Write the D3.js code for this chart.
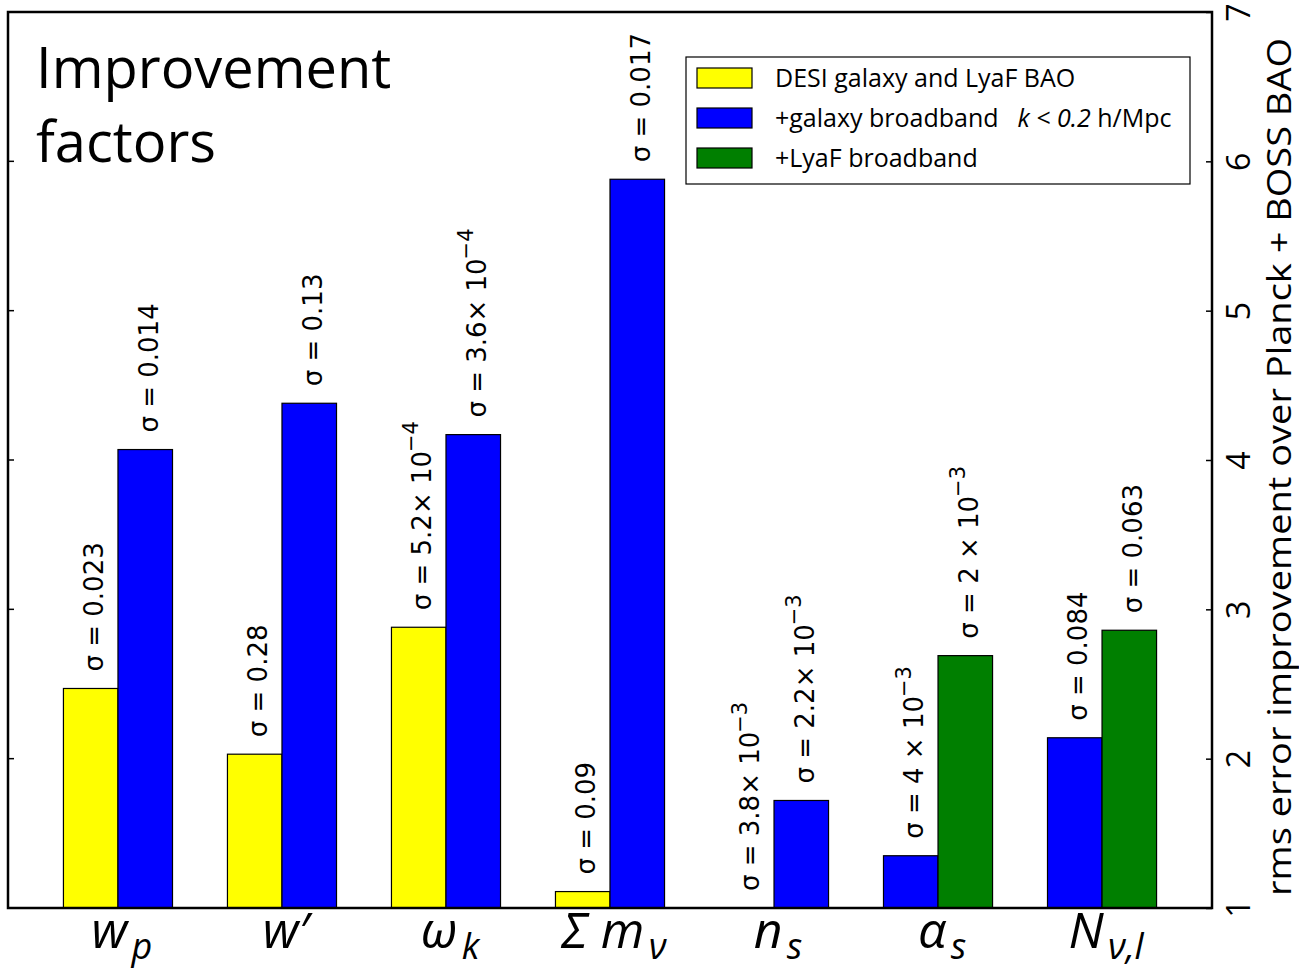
<!DOCTYPE html>
<html>
<head>
<meta charset="utf-8">
<script src="https://cdn.jsdelivr.net/npm/d3@7"></script>
<style>
  body { margin: 0; background: #fff; }
  svg { display: block; }
</style>
</head>
<body>
<div id="chart"></div>
<script>
// parameters on the x axis: main symbol and subscript
const categories = ["wp", "wprime", "omegak", "summnu", "ns", "alphas", "Nnu"];
const xMain = ["w", "w\u2032", "\u03c9", "\u03a3 m", "n", "\u03b1", "N"];
const xSub = ["p", "", "k", "\u03bd", "s", "s", "\u03bd,l"];

// improvement factors
const desiValues = [2.47, 2.03, 2.88, 1.11, null, null, null];
const galaxyValues = [4.07, 4.38, 4.17, 5.88, 1.72, 1.35, 2.14];
const lyafValues = [null, null, null, null, null, 2.69, 2.86];

// sigma annotations ("^" marks the exponent)
const desiLabels = ["0.023", "0.28", "5.2\u00d7 10^\u22124", "0.09", "3.8\u00d7 10^\u22123", null, null];
const galaxyLabels = ["0.014", "0.13", "3.6\u00d7 10^\u22124", "0.017", "2.2\u00d7 10^\u22123", "4 \u00d7 10^\u22123", "0.084"];
const lyafLabels = [null, null, null, null, null, "2 \u00d7 10^\u22123", "0.063"];

const yTicks = [1, 2, 3, 4, 5, 6, 7];

const series = [
  { name: "DESI galaxy and LyaF BAO", color: "#ffff00", values: desiValues, labels: desiLabels },
  { name: "+galaxy broadband", color: "#0000ff", values: galaxyValues, labels: galaxyLabels },
  { name: "+LyaF broadband", color: "#007f00", values: lyafValues, labels: lyafLabels }
];

const W = 1299, H = 970;
const plot = { left: 8, right: 1212, top: 12, bottom: 908 };

const svg = d3.select("#chart").append("svg")
  .attr("width", W).attr("height", H);

const x0 = d3.scaleBand()
  .domain(categories)
  .range([plot.left, plot.right])
  .paddingInner(0.335)
  .paddingOuter(0.338);

const x1 = d3.scaleBand()
  .domain([0, 1])
  .range([0, x0.bandwidth()]);

const y = d3.scaleLinear()
  .domain([1, 7])
  .range([plot.bottom, plot.top]);

// build one item per labelled bar, assigning slots left to right
const items = [];
categories.forEach((c, i) => {
  const present = series.filter(s => s.labels[i] != null);
  present.forEach((s, slot) => {
    items.push({ cat: c, slot, color: s.color, value: s.values[i], label: s.labels[i] });
  });
});

// bars
svg.append("g").selectAll("rect")
  .data(items.filter(d => d.value != null))
  .enter().append("rect")
  .attr("x", d => x0(d.cat) + x1(d.slot))
  .attr("y", d => y(d.value))
  .attr("width", x1.bandwidth())
  .attr("height", d => y(1) - y(d.value))
  .attr("fill", d => d.color)
  .attr("stroke", "#000")
  .attr("stroke-width", 1.2);

// sigma labels, rotated
const labFont = "'DejaVu Sans', sans-serif";
const lab = svg.append("g").selectAll("text")
  .data(items)
  .enter().append("text")
  .attr("transform", d => {
    const cx = x0(d.cat) + x1(d.slot) + x1.bandwidth() / 2 + 3;
    const yy = y(d.value == null ? 1 : d.value) - 17;
    return `translate(${cx},${yy}) rotate(-90)`;
  })
  .attr("dy", "0.36em")
  .attr("font-family", labFont)
  .attr("font-size", 26)
  .attr("fill", "#000");

lab.each(function(d) {
  const t = d3.select(this);
  const parts = ("\u03c3 = " + d.label).split("^");
  t.append("tspan").text(parts[0]);
  if (parts[1]) {
    t.append("tspan").attr("dx", "-0.05em").attr("dy", "-0.6em").attr("font-size", 21).text(parts[1]);
  }
});

// frame
const frame = svg.append("g").attr("stroke", "#000").attr("fill", "none");
frame.append("rect")
  .attr("x", plot.left).attr("y", plot.top)
  .attr("width", plot.right - plot.left).attr("height", plot.bottom - plot.top)
  .attr("stroke-width", 2.5);

// right axis
const yAxis = svg.append("g")
  .attr("transform", `translate(${plot.right},0)`)
  .call(d3.axisRight(y).tickValues(yTicks).tickSize(-6).tickPadding(0).tickFormat(d3.format("d")));
yAxis.select(".domain").remove();
yAxis.selectAll(".tick line").attr("stroke-width", 1.5);
yAxis.selectAll(".tick text")
  .attr("x", 0).attr("dy", 0)
  .attr("transform", "translate(25,0) rotate(-90)")
  .attr("text-anchor", "middle")
  .attr("dominant-baseline", "central")
  .attr("font-family", "'Open Sans', sans-serif")
  .attr("font-size", 32)
  .attr("fill", "#000");

// left inner ticks
svg.append("g").selectAll("line")
  .data(yTicks.slice(1, -1))
  .enter().append("line")
  .attr("x1", plot.left).attr("x2", plot.left + 6)
  .attr("y1", d => y(d)).attr("y2", d => y(d))
  .attr("stroke", "#000").attr("stroke-width", 1.5);

// right axis title
svg.append("text")
  .attr("transform", `translate(1278,${467}) rotate(-90)`)
  .attr("text-anchor", "middle")
  .attr("dominant-baseline", "central")
  .attr("font-family", "'Open Sans', sans-serif")
  .attr("font-size", 33)
  .attr("textLength", 858)
  .attr("lengthAdjust", "spacingAndGlyphs")
  .attr("fill", "#000")
  .text("rms error improvement over Planck + BOSS BAO");

// x labels
const xl = svg.append("g").selectAll("text")
  .data(categories)
  .enter().append("text")
  .attr("x", (d, i) => x0(d) + x0.bandwidth() / 2 + 4)
  .attr("y", 948)
  .attr("text-anchor", "middle")
  .attr("font-family", "'Open Sans', 'DejaVu Sans', sans-serif")
  .attr("font-style", "italic")
  .attr("font-size", 50)
  .attr("fill", "#000");
xl.each(function(d, i) {
  const t = d3.select(this);
  t.append("tspan").text(xMain[i]);
  if (xSub[i]) {
    t.append("tspan").attr("dx", "0.12em").attr("dy", "0.3em").attr("font-size", 36).text(xSub[i]);
  }
});

// title
const title = svg.append("text")
  .attr("font-family", "'Open Sans', sans-serif")
  .attr("font-size", 56)
  .attr("fill", "#000");
title.append("tspan").attr("x", 36).attr("y", 88).text("Improvement");
title.append("tspan").attr("x", 36).attr("y", 162).text("factors");

// legend
const legend = svg.append("g").attr("transform", "translate(686,57)");
legend.append("rect")
  .attr("width", 504).attr("height", 127)
  .attr("fill", "#fff").attr("stroke", "#000").attr("stroke-width", 1.2);
const rows = legend.selectAll("g.row")
  .data(series)
  .enter().append("g")
  .attr("class", "row")
  .attr("transform", (d, i) => `translate(11,${21 + i * 40})`);
rows.append("rect")
  .attr("y", -10).attr("width", 55).attr("height", 20)
  .attr("fill", d => d.color).attr("stroke", "#000").attr("stroke-width", 1.2);
const lt = rows.append("text")
  .attr("x", 78).attr("dy", "0.35em")
  .attr("font-family", "'Open Sans', sans-serif")
  .attr("font-size", 25)
  .attr("fill", "#000");
lt.each(function(d, i) {
  const t = d3.select(this);
  t.append("tspan").text(d.name);
  if (i === 1) {
    t.append("tspan").attr("dx", "0.75em").attr("font-style", "italic").text("k < 0.2");
    t.append("tspan").text(" h/Mpc");
  }
});
</script>
</body>
</html>
